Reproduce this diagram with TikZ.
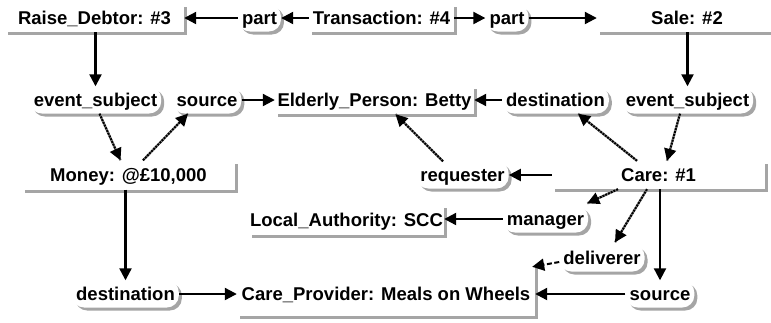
\documentclass[tikz,border=0pt]{standalone}
\usepackage{fontspec}
\setmainfont{Liberation Sans}
\usetikzlibrary{arrows.meta,shadows}

\definecolor{shadowgray}{RGB}{165,165,165}

\tikzset{
  lbl/.style={font=\bfseries\fontsize{18.5}{20}\selectfont,
              text height=17pt, text depth=4pt},
  boxshadow/.style={drop shadow={shadow xshift=3pt, shadow yshift=-3pt,
                    fill=shadowgray, opacity=1}},
  concept/.style={lbl, rectangle, fill=white, inner xsep=0pt, inner ysep=3pt,
                  boxshadow},
  relation/.style={lbl, rectangle, rounded corners=12pt, fill=white,
                   inner xsep=4pt, inner ysep=3pt, boxshadow},
  arr/.style={-{Triangle[length=12pt,width=12pt]}, line width=2.2pt},
  slant/.style={arr, line width=2pt, dash pattern=on 2pt off 1pt,
                preaction={draw=black!45, line width=2.4pt, solid, -}},
  dashedarr/.style={arr, line width=2pt, dash pattern=on 5pt off 2.5pt},
}

\begin{document}
\begin{tikzpicture}[x=1pt, y=-1pt]
\useasboundingbox (0,0) rectangle (771,322);

% concept boxes
\node[concept, minimum width=179pt, minimum height=28pt] (rd)    at (94.5,18)  {Raise\_Debtor: \#3};
\node[concept, minimum width=145pt, minimum height=28pt] (tr)    at (381.5,18) {Transaction: \#4};
\node[concept, minimum width=180pt, minimum height=28pt] (sale)  at (687,18)   {Sale: \#2};
\node[concept, minimum width=199pt, minimum height=28pt] (ep)    at (374.5,100) {Elderly\_Person: Betty};
\node[concept, minimum width=213pt, minimum height=29pt] (money) at (128.5,175) {Money: @£10,000};
\node[concept, minimum width=213pt, minimum height=28pt] (care)  at (658.5,175) {Care: \#1};
\node[concept, minimum width=195pt, minimum height=30pt] (la)    at (346.5,220) {Local\_Authority: SCC};
\node[concept, minimum width=298pt, minimum height=51pt, text height=24pt] (cp) at (386,290.5) {Care\_Provider: Meals on Wheels};

% relation ovals
\node[relation] (part1) at (259.5,18)  {part};
\node[relation] (part2) at (507,18)    {part};
\node[relation] (esL)   at (95.5,100)  {event\_subject};
\node[relation] (srcT)  at (207,100)   {source};
\node[relation] (destT) at (555.5,100) {destination};
\node[relation] (esR)   at (687.5,100) {event\_subject};
\node[relation] (req)   at (462.5,175) {requester};
\node[relation] (mgr)   at (545.5,219) {manager};
\node[relation] (deliv) at (602,258)   {deliverer};
\node[relation] (srcB)  at (660,294)   {source};
\node[relation] (destB) at (125.5,294) {destination};

% top row
\draw[arr] (part1.west) -- (part1.west -| rd.east);
\draw[arr] (part1.east -| tr.west) -- (part1.east);
\draw[arr] (part2.west -| tr.east) -- (part2.west);
\draw[arr] (part2.east) -- (part2.east -| sale.west);

% Raise_Debtor branch
\draw[arr] (esL.north |- rd.south) -- (esL.north);
\draw[slant] ([xshift=4pt]esL.south) -- ([xshift=-8pt]money.north);
\draw[slant] ([xshift=14.5pt]money.north) -- ([xshift=-19pt]srcT.south);
\draw[arr] (srcT.east) -- (srcT.east -| ep.west);
\draw[arr] (destB.north |- money.south) -- (destB.north);
\draw[arr] (destB.east) -- (destB.east -| cp.west);

% Sale / Care branch
\draw[arr] (sale.south -| esR.north) -- (esR.north);
\draw[slant] ([xshift=-7.5pt]esR.south) -- ([xshift=8.5pt]care.north);
\draw[arr] (destT.west) -- (destT.west -| ep.east);
\draw[slant] ([xshift=-21.5pt]care.north) -- ([xshift=22.5pt]destT.south);
\draw[slant] ([xshift=-19.5pt]req.north) -- ([xshift=21pt]ep.south);
\draw[arr] (req.east -| care.west) -- (req.east);
\draw[slant] ([xshift=-40.5pt]care.south) -- ([xshift=-1pt,yshift=2pt]mgr.north east);
\draw[slant] ([xshift=-11.5pt]care.south) -- ([xshift=13pt,yshift=2pt]deliv.north);
\draw[arr] (srcB.north |- care.south) -- (srcB.north);
\draw[arr] (mgr.west) -- (mgr.west -| la.east);
\draw[dashedarr] ([yshift=-4pt]deliv.west) -- ([xshift=-3pt,yshift=-2pt]cp.north east);
\draw[arr] (srcB.west) -- (srcB.west -| cp.east);
\end{tikzpicture}
\end{document}
